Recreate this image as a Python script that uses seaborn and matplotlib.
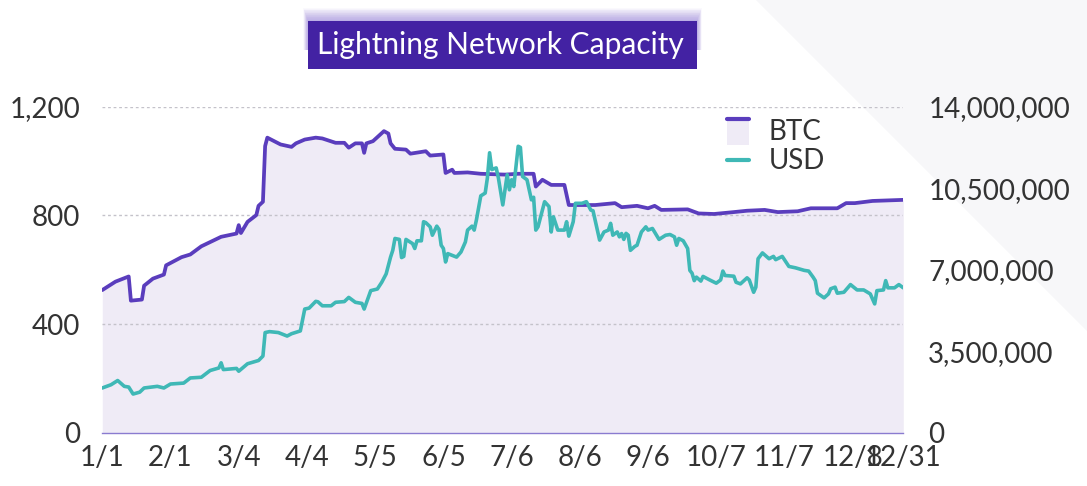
import matplotlib
matplotlib.use("Agg")
import pandas as pd
import matplotlib.pyplot as plt
import seaborn as sns
from matplotlib.patches import Rectangle, Polygon, Patch
from matplotlib.lines import Line2D
from matplotlib.legend_handler import HandlerBase

sns.set_theme(style="white")
plt.rcParams["font.family"] = ["Lato", "DejaVu Sans"]

PURPLE = "#5a3dbd"
TEAL   = "#3fb8b6"
FILL   = "#efebf6"
TITLE  = "#4322a3"
TEXT   = "#333333"
GRID   = "#c4c2ca"
CORNER = "#f7f7f9"

# dados (dia do ano 2019, 0 = 1/1)
btc_days = [0, 6, 12, 13, 18, 19, 23, 28, 29, 36,
            40, 45, 54, 61, 62, 63, 66, 70, 71, 73,
            74, 75, 81, 86, 88, 92, 97, 100, 106, 110,
            112, 115, 118, 119, 120, 123, 128, 130, 131, 133,
            138, 140, 147, 149, 155, 156, 159, 160, 166, 172,
            183, 189, 196, 197, 200, 204, 210, 212, 224, 233,
            236, 243, 248, 251, 254, 266, 271, 278, 287, 293,
            301, 307, 316, 322, 334, 338, 342, 350, 364]
btc = [525, 556, 575, 486, 490, 541, 567, 582, 616, 646,
       656, 686, 721, 733, 764, 735, 776, 801, 835, 850,
       1055, 1086, 1061, 1052, 1065, 1079, 1086, 1083, 1067, 1067,
       1049, 1065, 1065, 1030, 1065, 1073, 1110, 1101, 1065, 1045,
       1042, 1027, 1036, 1020, 1024, 956, 968, 956, 958, 953,
       950, 953, 953, 906, 931, 912, 912, 838, 838, 845,
       830, 835, 826, 835, 820, 822, 807, 805, 812, 817,
       820, 812, 815, 826, 826, 845, 845, 853, 857]

usd_days = [0, 4, 7, 10, 12, 14, 17, 19, 25, 28,
            31, 37, 40, 45, 49, 53, 54, 55, 61, 62,
            66, 71, 73, 74, 76, 80, 84, 86, 90, 92,
            94, 97, 98, 100, 104, 106, 110, 112, 115, 118,
            119, 122, 125, 127, 129, 131, 132, 133, 135, 136,
            137, 138, 141, 142, 143, 145, 146, 147, 149, 150,
            152, 153, 154, 155, 156, 157, 161, 163, 165, 166,
            168, 169, 170, 172, 174, 175, 176, 177, 179, 180,
            182, 184, 185, 186, 187, 189, 190, 191, 193, 195,
            196, 197, 198, 201, 203, 204, 205, 207, 210, 211,
            212, 214, 215, 218, 220, 222, 223, 226, 228, 230,
            231, 232, 234, 235, 236, 237, 238, 239, 240, 242,
            243, 245, 247, 248, 250, 253, 256, 258, 260, 261,
            262, 264, 266, 267, 268, 269, 270, 272, 273, 276,
            279, 281, 282, 283, 287, 288, 290, 293, 294, 296,
            297, 298, 300, 303, 305, 306, 309, 312, 315, 319,
            321, 323, 324, 325, 328, 330, 331, 333, 334, 337,
            340, 343, 346, 349, 351, 352, 355, 356, 357, 360,
            362, 364]
usd_m = [1.92, 2.06, 2.24, 1.99, 1.96, 1.66, 1.74, 1.92, 1.99, 1.92,
         2.09, 2.13, 2.35, 2.38, 2.67, 2.78, 3.00, 2.71, 2.76, 2.64,
         2.96, 3.10, 3.29, 4.30, 4.34, 4.30, 4.15, 4.25, 4.37, 5.31,
         5.35, 5.64, 5.62, 5.45, 5.45, 5.60, 5.63, 5.81, 5.60, 5.55,
         5.31, 6.10, 6.17, 6.46, 6.82, 7.54, 7.83, 8.34, 8.30, 7.52,
         7.57, 8.30, 8.12, 7.91, 8.24, 8.24, 9.06, 9.02, 8.84, 8.48,
         8.87, 8.73, 8.05, 7.91, 7.33, 7.69, 7.54, 7.76, 8.19, 8.70,
         8.87, 8.70, 9.13, 10.17, 10.29, 10.94, 12.02, 11.30, 11.37, 10.94,
         9.78, 11.08, 10.43, 10.86, 10.57, 12.30, 12.25, 11.00, 10.86, 10.00,
         10.11, 8.70, 8.84, 9.92, 9.71, 8.62, 9.27, 8.70, 8.70, 9.06,
         8.44, 9.06, 9.85, 9.85, 9.92, 9.56, 9.53, 8.27, 8.62, 8.70,
         8.99, 8.48, 8.62, 8.41, 8.55, 8.30, 8.56, 8.48, 7.83, 8.00,
         8.05, 8.62, 8.84, 8.70, 8.77, 8.30, 8.48, 8.51, 8.41, 8.05,
         8.34, 8.24, 7.91, 6.97, 6.85, 6.53, 6.68, 6.51, 6.71, 6.56,
         6.42, 6.56, 6.94, 6.75, 6.72, 6.46, 6.39, 6.65, 6.56, 6.03,
         6.25, 7.47, 7.72, 7.47, 7.57, 7.43, 7.57, 7.14, 7.08, 6.97,
         6.94, 6.68, 6.53, 5.99, 5.79, 5.96, 6.18, 6.25, 5.99, 6.03,
         6.36, 6.13, 6.13, 5.96, 5.53, 6.10, 6.13, 6.53, 6.22, 6.22,
         6.36, 6.22]

tick_dates  = ["2019-01-01", "2019-02-01", "2019-03-04", "2019-04-04", "2019-05-05",
               "2019-06-05", "2019-07-06", "2019-08-06", "2019-09-06", "2019-10-07",
               "2019-11-07", "2019-12-08", "2019-12-31"]
tick_labels = ["1/1", "2/1", "3/4", "4/4", "5/5", "6/5", "7/6", "8/6", "9/6",
               "10/7", "11/7", "12/8", "12/31"]
btc_ticks  = [0, 400, 800, 1200]
btc_labels = ["0", "400", "800", "1,200"]
usd_ticks  = [0, 3.5, 7, 10.5, 14]
usd_labels = ["0", "3,500,000", "7,000,000", "10,500,000", "14,000,000"]

base = pd.Timestamp("2019-01-01")
btc_dates = base + pd.to_timedelta(btc_days, unit="D")
usd_dates = base + pd.to_timedelta(usd_days, unit="D")


class FillLineHandler(HandlerBase):
    # quadradinho lilás com a linha roxa no topo
    def create_artists(self, legend, orig, xd, yd, w, h, fs, trans):
        x0, y0 = -xd, -yd
        r = Rectangle((x0, y0 - 0.25 * h), w, 1.35 * h, facecolor=FILL,
                      edgecolor="none", transform=trans)
        l = Line2D([x0, x0 + w], [y0 + 1.1 * h, y0 + 1.1 * h], color=PURPLE, lw=3,
                   transform=trans)
        return [r, l]


fig = plt.figure(figsize=(10.87, 4.86), dpi=100)
fig.patch.set_facecolor("white")

# triângulo cinza no canto
fig.add_artist(Polygon([(756 / 1087, 1), (1, 1), (1, 1 - 331 / 486)], closed=True,
                       transform=fig.transFigure, facecolor=CORNER,
                       edgecolor="none", zorder=-5))

ax = fig.add_axes([0.0941, 0.1097, 0.7369, 0.6708])
ax.set_facecolor("none")

ax.fill_between(btc_dates, btc, 0, color=FILL, lw=0, zorder=1)
for v in btc_ticks[1:]:
    ax.axhline(v, color=GRID, lw=1, ls=(0, (2, 2)), zorder=1.5)
sns.lineplot(x=btc_dates, y=btc, ax=ax, color=PURPLE, linewidth=2.7, zorder=2)

ax2 = ax.twinx()
sns.lineplot(x=usd_dates, y=usd_m, ax=ax2, color=TEAL, linewidth=2.6, zorder=3)

ax.set_xlim(base, pd.Timestamp("2019-12-31"))
ax.set_ylim(0, 1200)
ax2.set_ylim(0, 14)
ax.set_xticks(pd.to_datetime(tick_dates))
ax.set_xticklabels(tick_labels)
ax.set_yticks(btc_ticks)
ax.set_yticklabels(btc_labels)
ax2.set_yticks(usd_ticks)
ax2.set_yticklabels(usd_labels)
ax.set_xlabel("")
ax.set_ylabel("")
ax2.set_ylabel("")

ax.tick_params(axis="y", length=0, labelsize=20, colors=TEXT, pad=16)
ax.tick_params(axis="x", length=0, labelsize=20, colors=TEXT, pad=9)
ax2.tick_params(axis="y", length=0, labelsize=20, colors=TEXT, pad=18)
for a in (ax, ax2):
    for s in a.spines.values():
        s.set_visible(False)
ax.spines["bottom"].set_visible(True)
ax.spines["bottom"].set_color("#8a7bd0")
ax.spines["bottom"].set_linewidth(1)

btc_handle = Patch(facecolor=FILL)
usd_handle = Line2D([], [], color=TEAL, lw=3)
ax2.legend([btc_handle, usd_handle], ["BTC", "USD"],
           handler_map={btc_handle: FillLineHandler()},
           loc="upper left", bbox_to_anchor=(727 / 1087, 1 - 119 / 486),
           bbox_transform=fig.transFigure, frameon=False, fontsize=20,
           handlelength=0.8, handleheight=0.7, handletextpad=0.7,
           labelspacing=0.12, borderpad=0, borderaxespad=0,
           labelcolor=TEXT)

# título com caixa roxa e brilho suave por cima
bx0, bx1 = 308 / 1087, 697 / 1087
by0, by1 = 1 - 69 / 486, 1 - 21 / 486
for i in range(18, 0, -1):
    dx, dy = i * 0.25 / 1087, i * 0.7 / 486
    fig.add_artist(Rectangle((bx0 - dx, by0 + 0.4 * (by1 - by0)), bx1 - bx0 + 2 * dx,
                             0.6 * (by1 - by0) + dy, transform=fig.transFigure,
                             facecolor="#8f78d8", edgecolor="none",
                             alpha=0.045, zorder=4))
fig.add_artist(Rectangle((bx0, by0), bx1 - bx0, by1 - by0, transform=fig.transFigure,
                         facecolor=TITLE, edgecolor="none", zorder=5))
fig.text((bx0 + bx1) / 2 - 0.002, (by0 + by1) / 2, "Lightning Network Capacity",
         ha="center", va="center", color="white", fontsize=21.5, zorder=6)

fig.savefig("out.png", dpi=100, facecolor="white")
